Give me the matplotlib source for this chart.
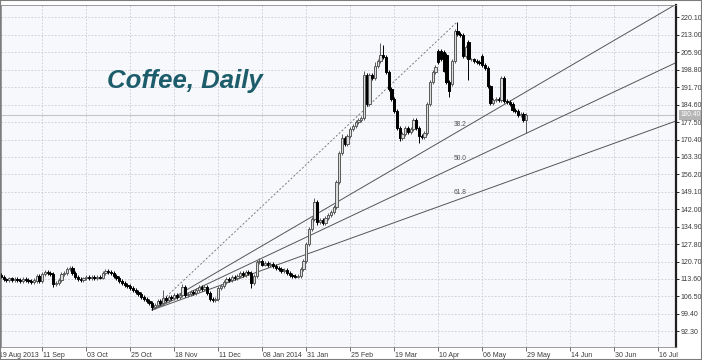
import matplotlib
matplotlib.use("Agg")
import matplotlib.pyplot as plt
from matplotlib.patches import Rectangle
from matplotlib.transforms import blended_transform_factory

# ── data: daily closes (bar index = trading day) ─────────────────────────────
closes = [
    114.6, 113.4, 113.2, 113.8, 113.0, 113.5, 113.3, 112.8, 113.6, 113.0,
    112.6, 112.4, 113.0, 114.8, 112.6, 115.8, 116.4, 116.0, 115.6, 111.5,
    111.8, 113.0, 115.5, 116.0, 117.5, 118.0, 116.2, 114.5, 113.6, 113.2,
    113.8, 114.3, 114.0, 114.6, 114.0, 114.4, 114.2, 116.0, 116.8, 116.5,
    116.0, 115.0, 114.0, 112.8, 112.0, 111.2, 110.6, 109.8, 109.0, 108.2,
    107.4, 106.4, 105.6, 104.6, 104.0, 102.2, 103.2, 104.6, 104.0, 106.0,
    105.2, 106.4, 105.8, 107.0, 106.2, 107.2, 110.5, 107.0, 107.6, 108.2,
    107.8, 109.0, 110.2, 109.6, 110.4, 108.0, 105.6, 105.2, 105.4, 110.0,
    110.6, 112.4, 113.6, 113.0, 114.6, 114.0, 115.0, 116.0, 115.4, 116.6,
    116.0, 112.0, 115.0, 120.5, 121.0, 119.5, 120.2, 119.4, 119.8, 118.8,
    118.0, 117.6, 116.8, 117.2, 116.0, 115.4, 115.0, 114.6, 114.8, 117.5,
    121.0, 128.0, 134.0, 138.0, 145.0, 136.8, 137.6, 136.4, 138.4, 139.6,
    141.0, 143.0, 153.0, 165.0, 171.0, 168.5, 172.0, 174.5, 176.0, 177.5,
    178.5, 179.0, 196.5, 185.0, 196.5, 195.5, 200.5, 202.5, 205.0, 204.0,
    198.0, 191.0, 187.0, 182.0, 175.0, 171.0, 172.5, 175.0, 173.5, 174.5,
    178.5, 175.0, 172.0, 171.5, 173.0, 185.0, 194.0, 198.0, 200.0, 202.0,
    203.0, 198.5, 194.0, 190.0, 202.5, 214.5, 213.5, 213.0, 204.5, 208.0,
    203.0, 203.0, 202.5, 202.0, 201.5, 200.7, 199.5, 192.0, 185.3, 186.5,
    187.0, 186.5, 195.5, 186.0, 185.5, 185.0, 182.5, 182.0, 180.5, 181.0,
    178.5, 180.4,
]
# opens that gap away from the previous close
gap_opens = {0: 115.4, 13: 112.6, 14: 114.8, 159: 206.5, 160: 206.5, 161: 206.0,
             162: 205.0, 164: 193.0, 170: 210.0, 175: 204.5}
# notable wick extremes
highs = {24: 118.5, 59: 109.0, 66: 111.5, 94: 122.2, 114: 146.5, 124: 172.5,
         132: 198.5, 136: 202.0, 138: 209.7, 139: 209.0, 166: 218.4}
lows = {19: 110.5, 55: 101.0, 76: 104.6, 91: 110.0, 115: 135.5, 145: 169.8,
        152: 169.0, 163: 187.7, 170: 194.6, 191: 173.0}

fib_levels = [38.2, 50.0, 61.8]
yticks = [92.30, 99.40, 106.50, 113.60, 120.70, 127.80, 134.90, 142.00, 149.10,
          156.20, 163.30, 170.40, 177.50, 184.60, 191.70, 198.80, 205.90, 213.00, 220.10]
xtick_idx = [-1, 15, 31, 47, 63, 79, 95, 111, 127, 143, 159, 175, 191, 207, 223, 239]
xtick_lbl = ["19 Aug 2013", "11 Sep", "03 Oct", "25 Oct", "18 Nov", "11 Dec", "08 Jan 2014",
             "31 Jan", "25 Feb", "19 Mar", "10 Apr", "06 May", "29 May", "14 Jun", "30 Jun", "16 Jul"]

BG = "#f7f8fc"; GRID = "#c6cad3"; TXT = "#3a3a3a"; SMALL = "Liberation Sans"
W, H = 702, 360
fig = plt.figure(figsize=(W / 100, H / 100), dpi=100, facecolor="white")
ax = fig.add_axes([1 / W, (H - 347) / H, 675 / W, 342 / H], facecolor=BG)

# ── candles ──────────────────────────────────────────────────────────────────
opens = []
for i, c in enumerate(closes):
    opens.append(gap_opens.get(i, closes[i - 1] if i else c))
for i, (o, c) in enumerate(zip(opens, closes)):
    up = c >= o
    hi = highs.get(i, max(o, c) + 0.8)
    lo = lows.get(i, min(o, c) - 0.8)
    col = "#5a5a5a" if up else "black"
    ax.vlines(i, lo, hi, color=col, lw=0.7, zorder=3)
    ax.bar(i, max(abs(c - o), 0.4), bottom=min(o, c), width=0.85,
           color="#dcdcdc" if up else "black", edgecolor=col, lw=0.7, zorder=4)

# ── Fibonacci fan from the swing low to the swing high ───────────────────────
i0 = min(lows, key=lows.get); p0 = lows[i0]
i1 = max(highs, key=highs.get); p1 = highs[i1]
xr = 246
ax.plot([i0, i1], [p0, p1], color="#7a7a7a", lw=0.7, ls=(0, (2, 2)), zorder=2)
for lv in fib_levels:
    pt = p1 - lv / 100 * (p1 - p0)
    slope = (pt - p0) / (i1 - i0)
    ax.plot([i0, xr], [p0, p0 + slope * (xr - i0)], color="#555555", lw=0.7, zorder=2)
    ax.text(i1 - 1.5, pt + 2.2, f"{lv:.1f}", fontsize=4.8, family=SMALL,
            color="#555555", zorder=5)

# current price line + box
last = closes[-1]
ax.axhline(last, color="#c4c4c4", lw=0.8, zorder=1)
tr = blended_transform_factory(ax.transAxes, ax.transData)
ax.text(1.006, last, f"{last:.2f}", transform=tr, fontsize=4.8, family=SMALL,
        color="white", va="center", ha="left", clip_on=False,
        bbox=dict(boxstyle="square,pad=0.2", fc="#b5b5b5", ec="none"))

# ── axes, grid, labels ───────────────────────────────────────────────────────
ax.set_xlim(0, 675 / 2.75)
ax.set_ylim(85.9, 225.19)
for y in yticks:
    ax.axhline(y, color=GRID, lw=0.6, ls=(0, (2, 2)), zorder=0)
for x in xtick_idx:
    ax.axvline(x, color=GRID, lw=0.6, ls=(0, (2, 2)), zorder=0)
ax.yaxis.tick_right()
ax.set_yticks(yticks)
ax.set_yticklabels([f"{v:.2f}" for v in yticks], fontsize=5.0, family=SMALL, color=TXT)
ax.set_xticks([x for x in xtick_idx if x >= 0])
ax.set_xticklabels([])
ax.tick_params(axis="y", length=2.5, width=0.6, pad=1.0)
ax.tick_params(axis="x", length=3, width=0.6, color="#555555")
trx = blended_transform_factory(ax.transData, ax.transAxes)
for x, lb in zip(xtick_idx, xtick_lbl):
    ax.text(x + 0.4, -0.014, lb, transform=trx, fontsize=5.0, family=SMALL, color=TXT,
            ha="left", va="top", clip_on=False)
for s in ["left", "top", "bottom"]:
    ax.spines[s].set_color("#8a8a8a"); ax.spines[s].set_linewidth(0.6)
ax.spines["right"].set_color("#202020"); ax.spines["right"].set_linewidth(1.6)

fig.text(107 / W, 1 - 88 / H, "Coffee, Daily", fontsize=18.5, fontweight="bold",
         fontstyle="italic", family="Liberation Sans", color="#1d5d6b", va="baseline")
fig.patches.append(Rectangle((0, 0), 1, 1, transform=fig.transFigure, fill=False,
                             ec="#7c7c7c", lw=1.5))

fig.savefig("out.png", dpi=100, facecolor="white")
